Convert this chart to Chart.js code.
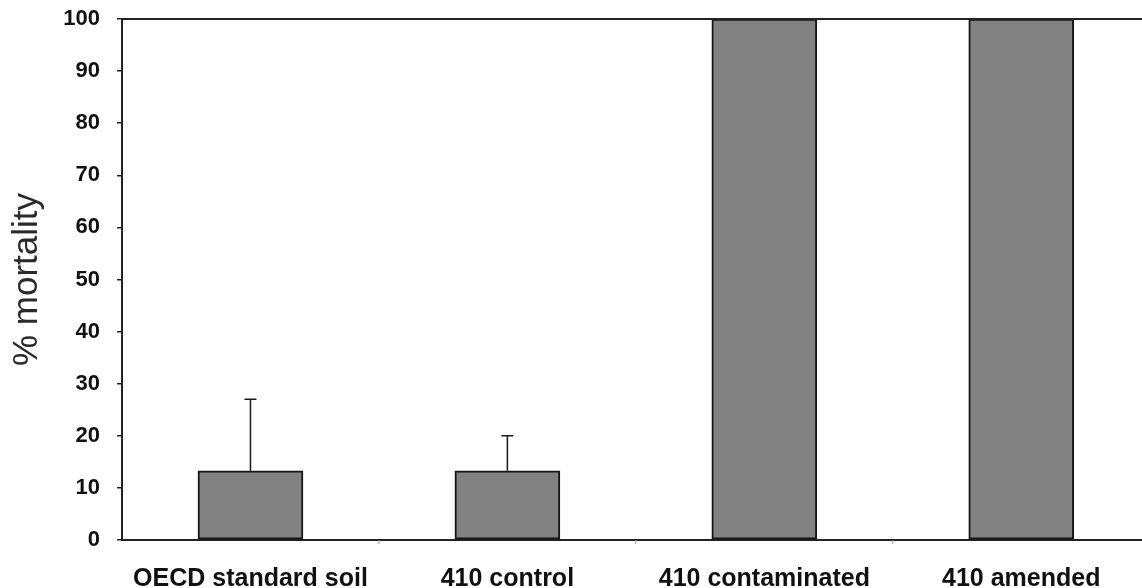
<!DOCTYPE html>
<html>
<head>
<meta charset="utf-8">
<script src="https://cdn.jsdelivr.net/npm/chart.js@4"></script>
<style>
  html, body { margin: 0; padding: 0; background: #ffffff; }
  #wrap { width: 1142px; height: 588px; }
</style>
</head>
<body>
<div id="wrap"><canvas id="mortalityChart" width="1142" height="588"></canvas></div>
<script>
const categories = ['OECD standard soil', '410 control', '410 contaminated', '410 amended'];
const mortality = [13.3, 13.3, 100, 100];
const errorUp = [13.7, 6.7, 0, 0];
const yTicks = [0, 10, 20, 30, 40, 50, 60, 70, 80, 90, 100];

const fontFamily = '"Liberation Sans", Arial, sans-serif';

// upward error bars + top frame line + small category separators
const extrasPlugin = {
    id: 'extras',
    afterDatasetsDraw(chart) {
        const ctx = chart.ctx;
        const xs = chart.scales.x;
        const ys = chart.scales.y;
        const area = chart.chartArea;
        ctx.save();
        ctx.strokeStyle = '#1a1a1a';
        ctx.lineWidth = 1.5;
        mortality.forEach((v, i) => {
            if (!errorUp[i]) return;
            const x = xs.getPixelForValue(i);
            const yTop = ys.getPixelForValue(v + errorUp[i]);
            const yBar = ys.getPixelForValue(v);
            ctx.beginPath();
            ctx.moveTo(x, yBar);
            ctx.lineTo(x, yTop);
            ctx.moveTo(x - 6, yTop);
            ctx.lineTo(x + 6, yTop);
            ctx.stroke();
        });
        // top frame
        ctx.lineWidth = 2;
        ctx.strokeStyle = '#222';
        ctx.beginPath();
        ctx.moveTo(area.left, area.top);
        ctx.lineTo(area.right, area.top);
        ctx.stroke();
        // faint tick marks between categories
        ctx.lineWidth = 1;
        ctx.strokeStyle = '#999';
        for (let i = 0; i < categories.length - 1; i++) {
            const x = xs.getPixelForValue(i + 0.5);
            ctx.beginPath();
            ctx.moveTo(x, area.bottom);
            ctx.lineTo(x, area.bottom + 4);
            ctx.stroke();
        }
        ctx.restore();
    }
};

new Chart(document.getElementById('mortalityChart'), {
    type: 'bar',
    data: {
        datasets: [{
            label: '% mortality',
            data: mortality.map((v, i) => ({ x: i, y: v })),
            backgroundColor: '#828282',
            borderColor: '#151515',
            borderWidth: 2,
            borderSkipped: false,
            barThickness: 105
        }]
    },
    options: {
        responsive: false,
        animation: false,
        layout: { padding: { top: 19, left: 0, right: 0, bottom: 0 } },
        plugins: {
            legend: { display: false },
            tooltip: { enabled: false }
        },
        scales: {
            x: {
                type: 'linear',
                offset: false,
                min: -0.5,
                max: 3.47,
                grid: { display: false, drawTicks: false },
                border: { color: '#222', width: 2 },
                afterBuildTicks: scale => {
                    scale.ticks = categories.map((c, i) => ({ value: i }));
                },
                ticks: {
                    autoSkip: false,
                    maxRotation: 0,
                    padding: 24,
                    color: '#111',
                    font: { family: fontFamily, size: 25, weight: 'bold' },
                    callback: value => categories[value]
                },
                afterFit: scale => {
                    scale.height = 48;
                    scale.paddingLeft = 0;
                    scale.paddingRight = 0;
                }
            },
            y: {
                min: 0,
                max: 100,
                afterBuildTicks: scale => {
                    scale.ticks = yTicks.map(v => ({ value: v }));
                },
                grid: {
                    drawOnChartArea: false,
                    drawTicks: true,
                    tickLength: 5,
                    lineWidth: 1.5,
                    color: '#222'
                },
                border: { color: '#222', width: 2 },
                ticks: {
                    padding: 17,
                    color: '#111',
                    font: { family: fontFamily, size: 22, weight: 'bold' }
                },
                title: {
                    display: true,
                    text: '% mortality',
                    color: '#2a2a2a',
                    padding: { top: 6, bottom: 0 },
                    font: { family: fontFamily, size: 35, weight: 'normal' }
                },
                afterFit: scale => {
                    scale.width = 122;
                    scale.paddingTop = 0;
                    scale.paddingBottom = 0;
                }
            }
        }
    },
    plugins: [extrasPlugin]
});
</script>
</body>
</html>
